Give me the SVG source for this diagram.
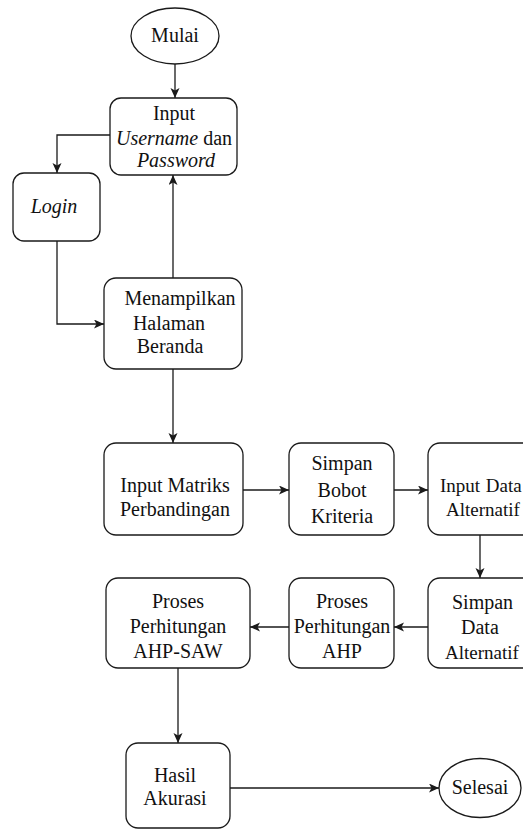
<svg xmlns="http://www.w3.org/2000/svg" width="523" height="831" viewBox="0 0 523 831">
  <style>
    .shape { fill: #ffffff; stroke: #1a1a1a; stroke-width: 1.3; }
    .edge { fill: none; stroke: #1a1a1a; stroke-width: 1.3; marker-end: url(#arrow); }
    text { font-family: "Liberation Serif", "Times New Roman", serif; font-size: 20px; fill: #111111; text-anchor: middle; }
    .it { font-style: italic; }
    .left { text-anchor: start; }
    .narrow { font-size: 19px; }
  </style>
  <defs>
    <marker id="arrow" markerUnits="userSpaceOnUse" markerWidth="11" markerHeight="10" refX="10" refY="4.5" orient="auto">
      <path d="M0,0 L10,4.5 L0,9 L2.5,4.5 z" fill="#1a1a1a"/>
    </marker>
  </defs>
  <rect width="523" height="831" fill="#ffffff"/>

  <g id="connectors">
    <path class="edge" d="M175,64 V98"/>
    <path class="edge" d="M110,135 H57 V173"/>
    <path class="edge" d="M57,241 V324 H104"/>
    <path class="edge" d="M173,278 V175"/>
    <path class="edge" d="M173,369 V443"/>
    <path class="edge" d="M243,490 H289"/>
    <path class="edge" d="M394,490 H428"/>
    <path class="edge" d="M480,535 V578"/>
    <path class="edge" d="M428,627 H394"/>
    <path class="edge" d="M289,627 H250"/>
    <path class="edge" d="M178,668 V743"/>
    <path class="edge" d="M230,788 H439"/>
  </g>

  <g id="mulai">
    <ellipse class="shape" cx="175" cy="36" rx="44" ry="28"/>
    <text x="175" y="42">Mulai</text>
  </g>

  <g id="input-login">
    <rect class="shape" x="110" y="98" width="127" height="77" rx="11"/>
    <text x="174" y="120">Input</text>
    <text x="174" y="145"><tspan class="it">Username</tspan> dan</text>
    <text x="176" y="167" class="it">Password</text>
  </g>

  <g id="login">
    <rect class="shape" x="13" y="173" width="87" height="68" rx="11"/>
    <text x="54" y="213" class="it">Login</text>
  </g>

  <g id="beranda">
    <rect class="shape" x="104" y="278" width="138" height="91" rx="12"/>
    <text x="180" y="305">Menampilkan</text>
    <text x="169" y="330">Halaman</text>
    <text x="170" y="353">Beranda</text>
  </g>

  <g id="input-matriks">
    <rect class="shape" x="104" y="443" width="139" height="92" rx="12"/>
    <text x="175" y="492">Input Matriks</text>
    <text x="175" y="516">Perbandingan</text>
  </g>

  <g id="simpan-bobot">
    <rect class="shape" x="289" y="443" width="105" height="92" rx="12"/>
    <text x="342" y="470">Simpan</text>
    <text x="342" y="497">Bobot</text>
    <text x="342" y="523">Kriteria</text>
  </g>

  <g id="input-alternatif">
    <rect class="shape" x="428" y="443" width="120" height="92" rx="12"/>
    <text x="440" y="492" class="left narrow" word-spacing="1">Input Data</text>
    <text x="446" y="516" class="left narrow">Alternatif</text>
  </g>

  <g id="simpan-alternatif">
    <rect class="shape" x="428" y="578" width="120" height="90" rx="12"/>
    <text x="452" y="609" class="left">Simpan</text>
    <text x="461" y="634" class="left">Data</text>
    <text x="445" y="659" class="left narrow">Alternatif</text>
  </g>

  <g id="proses-ahp">
    <rect class="shape" x="289" y="578" width="105" height="90" rx="12"/>
    <text x="342" y="608">Proses</text>
    <text x="342" y="633">Perhitungan</text>
    <text x="342" y="658">AHP</text>
  </g>

  <g id="proses-ahp-saw">
    <rect class="shape" x="106" y="578" width="144" height="90" rx="12"/>
    <text x="178" y="608">Proses</text>
    <text x="178" y="633">Perhitungan</text>
    <text x="178" y="658">AHP-SAW</text>
  </g>

  <g id="hasil">
    <rect class="shape" x="126" y="743" width="104" height="85" rx="12"/>
    <text x="175" y="782">Hasil</text>
    <text x="175" y="805">Akurasi</text>
  </g>

  <g id="selesai">
    <ellipse class="shape" cx="480" cy="788" rx="41" ry="29.5"/>
    <text x="480" y="794">Selesai</text>
  </g>
</svg>
